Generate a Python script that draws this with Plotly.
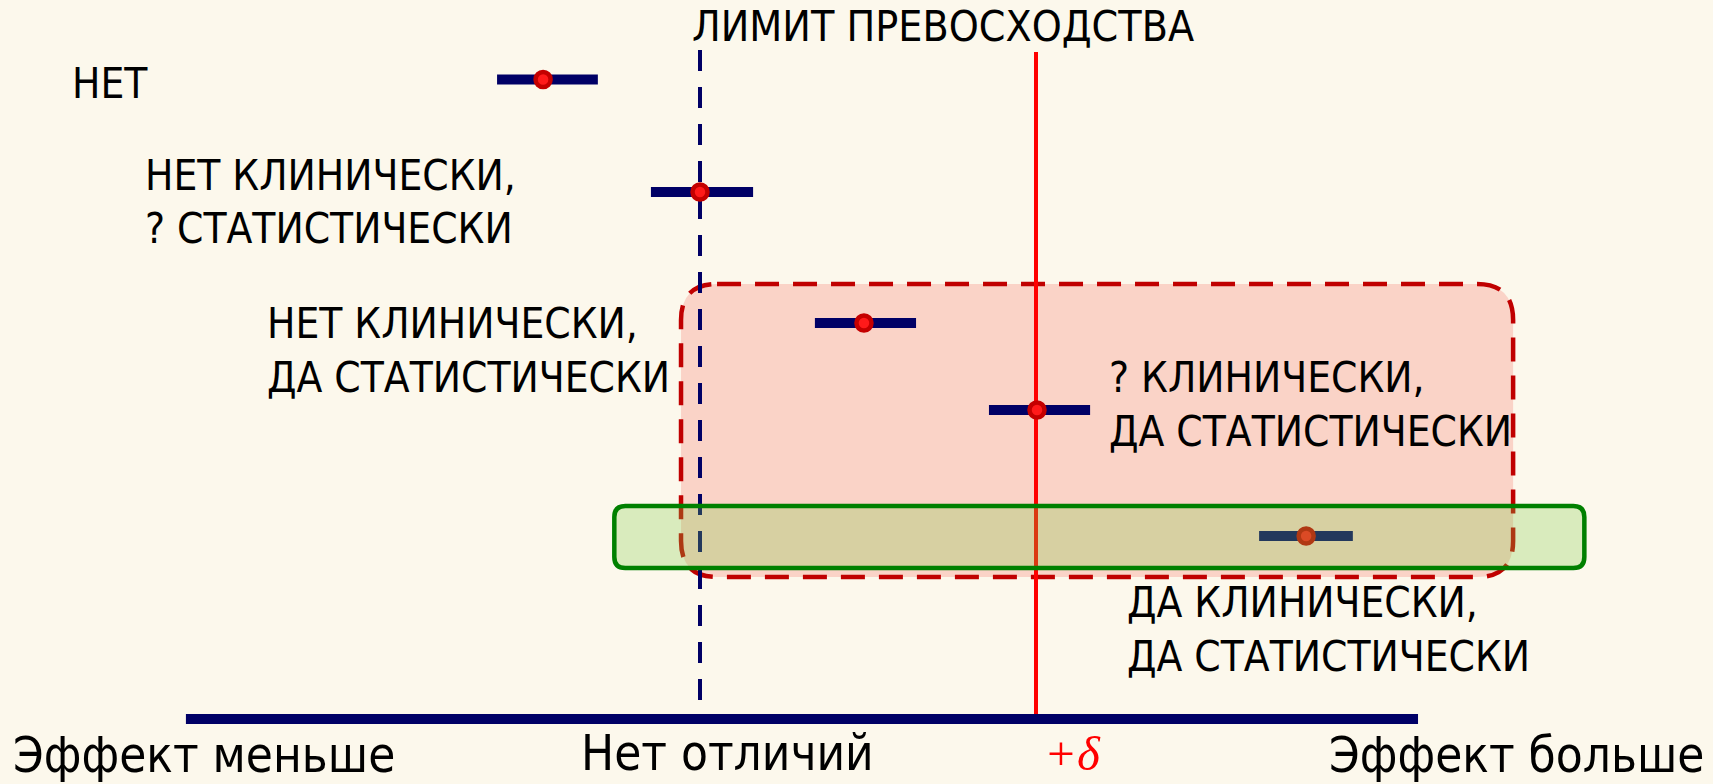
import plotly.graph_objects as go

# ---- data -------------------------------------------------------------
# Effect scale: 0 = no difference, 1 = superiority margin (+delta)
NULL_EFFECT = 0.0
DELTA = 1.0

row_labels = [
    ["НЕТ"],
    ["НЕТ КЛИНИЧЕСКИ,", "? СТАТИСТИЧЕСКИ"],
    ["НЕТ КЛИНИЧЕСКИ,", "ДА СТАТИСТИЧЕСКИ"],
    ["? КЛИНИЧЕСКИ,", "ДА СТАТИСТИЧЕСКИ"],
    ["ДА КЛИНИЧЕСКИ,", "ДА СТАТИСТИЧЕСКИ"],
]
point_est = [-0.467, 0.0, 0.488, 1.003, 1.804]
ci_low = [-0.604, -0.146, 0.342, 0.860, 1.664]
ci_high = [-0.304, 0.158, 0.643, 1.161, 1.943]
# vertical slot of each trial (distance from the top, layout units)
row_y = [79.5, 192, 323, 410, 536]

axis_labels = ["Эффект меньше", "Нет отличий", "+δ", "Эффект больше"]
margin_title = "ЛИМИТ ПРЕВОСХОДСТВА"

# ---- layout constants -------------------------------------------------
W, H = 1713, 784
PX_PER_UNIT = 336.0
X0_PX = 700.0
x_range = [(0 - X0_PX) / PX_PER_UNIT, (W - X0_PX) / PX_PER_UNIT]
y_range = [H, 0]

NAVY = "#000066"
RED = "#ff0000"
BG = "#fcf8ec"
FONT = "DejaVu Sans Condensed, Arial Narrow, sans-serif"


def rounded_rect(x0, x1, y0, y1, r_px):
    """SVG path of a rounded rectangle in data units (x) / layout units (y)."""
    rx = r_px / PX_PER_UNIT
    ry = r_px
    return (
        f"M {x0 + rx},{y0} L {x1 - rx},{y0} Q {x1},{y0} {x1},{y0 + ry} "
        f"L {x1},{y1 - ry} Q {x1},{y1} {x1 - rx},{y1} "
        f"L {x0 + rx},{y1} Q {x0},{y1} {x0},{y1 - ry} "
        f"L {x0},{y0 + ry} Q {x0},{y0} {x0 + rx},{y0} Z"
    )


fig = go.Figure()

# confidence intervals
for lo, hi, yy in zip(ci_low, ci_high, row_y):
    fig.add_trace(go.Scatter(
        x=[lo, hi], y=[yy, yy], mode="lines",
        line=dict(color=NAVY, width=10), hoverinfo="skip", showlegend=False,
    ))

# point estimates
fig.add_trace(go.Scatter(
    x=point_est, y=row_y, mode="markers",
    marker=dict(size=15, color="#ff1a1a", line=dict(color="#c40000", width=4.5)),
    hoverinfo="skip", showlegend=False,
))

shapes = [
    # zone where superiority is statistically shown (CI above zero)
    dict(type="path", layer="below",
         path=rounded_rect(-0.0565, 2.42, 284, 577, 36),
         fillcolor="rgba(247,180,170,0.55)",
         line=dict(color="#c00000", width=4.5, dash="24px,14px")),
    # no-difference line
    dict(type="line", layer="below", xref="x", yref="y",
         x0=NULL_EFFECT, x1=NULL_EFFECT, y0=50, y1=719,
         line=dict(color=NAVY, width=4, dash="21px,16px")),
    # superiority margin line
    dict(type="line", layer="below", xref="x", yref="y",
         x0=DELTA, x1=DELTA, y0=52, y1=719,
         line=dict(color=RED, width=4)),
    # effect axis
    dict(type="line", layer="below", xref="x", yref="y",
         x0=-1.530, x1=2.137, y0=719, y1=719,
         line=dict(color=NAVY, width=10)),
    # zone where superiority is clinically shown (CI above +delta)
    dict(type="path", layer="above",
         path=rounded_rect(-0.255, 2.632, 506, 568, 11),
         fillcolor="rgba(125,200,70,0.28)",
         line=dict(color="#008000", width=4.5)),
]

annotations = []


def add_text(text, px, py, size=44, color="black", anchor="left", family=FONT):
    annotations.append(dict(
        text=text, xref="paper", yref="paper",
        x=px / W, y=1 - py / H, xanchor=anchor, yanchor="middle",
        showarrow=False, font=dict(family=family, size=size, color=color),
    ))


# row labels
label_pos = [(70, 83), (143, 175), (265, 323), (1107, 377), (1125, 602)]
LINE_STEP = 54
for lines, (lx, ly) in zip(row_labels, label_pos):
    for k, line in enumerate(lines):
        add_text(line, lx, ly + k * LINE_STEP, size=42)

add_text(margin_title, 690, 27, size=42.5)

# axis captions
add_text(axis_labels[0], 11, 755, size=49)
add_text(axis_labels[1], 727, 753, size=49, anchor="center")
add_text("<i>" + axis_labels[2] + "</i>", 1072, 753, size=49, color=RED,
         anchor="center", family="Liberation Serif, DejaVu Serif, serif")
add_text(axis_labels[3], 1706, 755, size=49, anchor="right")

fig.update_layout(
    width=W, height=H,
    margin=dict(l=0, r=0, t=0, b=0),
    paper_bgcolor=BG, plot_bgcolor=BG,
    xaxis=dict(range=x_range, visible=False, fixedrange=True),
    yaxis=dict(range=y_range, visible=False, fixedrange=True),
    shapes=shapes, annotations=annotations, showlegend=False,
)

fig.write_html("out.html")
